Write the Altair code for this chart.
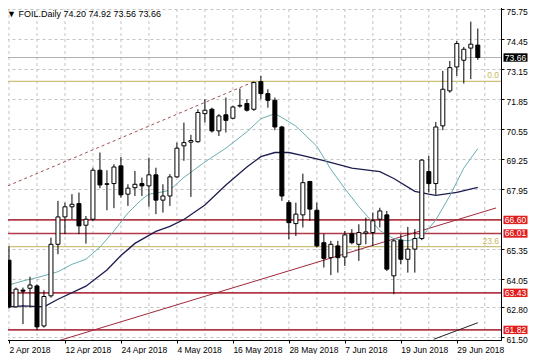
import altair as alt
import pandas as pd

# ---------------- data ----------------
bar_idx = list(range(68))
opens = [64.85, 62.82, 63.55, 63.63, 63.73, 61.99, 63.30, 65.54, 66.73, 67.17,
         67.31, 66.37, 66.63, 68.76, 68.17, 68.18, 68.95, 67.72, 68.00, 68.18,
         68.08, 68.56, 67.46, 67.64, 68.47, 69.82, 69.98, 70.00, 71.22, 71.41,
         70.47, 71.17, 71.02, 71.55, 71.66, 71.41, 72.61, 72.09, 71.80, 70.64,
         67.35, 66.44, 66.82, 68.27, 67.02, 65.61, 64.96, 65.47, 64.99, 66.00,
         65.54, 66.02, 66.05, 66.63, 66.82, 64.17, 65.72, 64.89, 65.33, 65.79,
         68.70, 68.18, 70.69, 72.21, 73.25, 73.54, 74.07, 74.20]
highs = [65.45, 63.66, 63.66, 64.13, 63.80, 63.54, 65.83, 67.43, 67.35, 67.72,
         67.79, 66.77, 68.87, 69.53, 68.76, 69.02, 69.34, 68.15, 68.73, 68.44,
         69.31, 68.87, 68.15, 68.59, 69.96, 70.83, 70.30, 71.41, 71.85, 71.48,
         71.20, 71.92, 71.56, 72.31, 71.85, 72.61, 72.86, 72.28, 71.92, 70.69,
         67.46, 67.35, 68.61, 68.30, 67.35, 66.00, 65.69, 65.69, 66.12, 66.20,
         66.41, 66.70, 66.92, 67.13, 66.99, 65.76, 65.98, 66.30, 66.20, 69.24,
         69.38, 70.86, 73.08, 73.51, 74.38, 74.12, 75.22, 74.92]
lows = [62.75, 62.78, 62.07, 62.79, 61.80, 61.92, 63.22, 65.11, 65.98, 66.63,
        65.98, 65.57, 66.56, 67.98, 67.02, 67.11, 67.57, 67.21, 67.64, 67.64,
        67.17, 66.85, 66.92, 67.21, 68.44, 69.17, 67.60, 69.96, 70.83, 70.40,
        70.25, 70.40, 70.98, 71.48, 71.31, 71.34, 71.85, 71.48, 70.50, 67.43,
        65.76, 65.90, 66.27, 66.56, 65.40, 64.53, 64.20, 64.31, 64.60, 65.54,
        64.82, 65.54, 65.47, 66.27, 64.38, 63.37, 64.67, 64.31, 64.31, 65.72,
        67.79, 67.70, 70.50, 72.13, 72.86, 72.53, 72.72, 73.56]
closes = [62.82, 63.59, 63.50, 63.77, 61.95, 63.27, 65.54, 66.73, 67.17, 67.28,
          66.34, 66.63, 68.76, 68.12, 68.15, 68.90, 67.69, 67.98, 68.15, 68.08,
          68.56, 67.46, 67.64, 68.47, 69.72, 69.96, 70.05, 71.27, 71.37, 70.47,
          71.12, 70.93, 71.51, 71.58, 71.37, 72.57, 72.09, 71.80, 70.64, 67.64,
          66.48, 66.85, 68.22, 67.07, 65.47, 64.93, 65.54, 64.96, 65.95, 65.61,
          66.05, 66.08, 66.56, 66.99, 64.46, 65.69, 64.89, 65.33, 65.79, 69.20,
          68.18, 70.64, 72.28, 73.22, 74.27, 74.02, 74.24, 73.66]

fast_ma_idx = [0, 2, 4, 7, 9, 11, 13, 15, 17, 19, 20, 22, 23, 25, 28, 31, 34, 36,
               38, 39, 41, 44, 46, 48, 50, 53, 55, 57, 59, 61, 63, 65, 67]
fast_ma_val = [63.77, 63.95, 64.09, 64.35, 64.67, 64.89, 65.42, 66.12, 66.90, 67.50,
               67.72, 67.82, 67.90, 68.45, 69.12, 69.72, 70.43, 71.00, 71.22, 71.05,
               70.68, 69.80, 68.80, 67.96, 67.18, 66.14, 65.78, 65.69, 65.86, 66.60,
               67.65, 68.85, 69.70]
slow_ma_idx = [0, 2, 5, 7, 11, 14, 16, 18, 21, 23, 25, 28, 31, 34, 36, 38, 40, 42,
               45, 49, 53, 55, 58, 60, 61, 64, 67]
slow_ma_val = [62.82, 62.86, 62.82, 63.15, 63.72, 64.42, 65.05, 65.58, 66.10, 66.32,
               66.62, 67.25, 68.12, 68.90, 69.35, 69.53, 69.53, 69.40, 69.18, 68.85,
               68.70, 68.40, 67.84, 67.72, 67.67, 67.80, 68.02]

support_idx = [7.0, 69.6]
support_val = [61.34, 67.12]
channel_idx = [-0.18, 35.0]
channel_val = [68.08, 72.61]
lower_idx = [60.7, 67.0]
lower_val = [61.41, 62.13]

date_tick_idx = [0, 8, 16, 24, 32, 40, 48, 56, 64]
date_tick_labels = ["2 Apr 2018", "12 Apr 2018", "24 Apr 2018", "4 May 2018",
                    "16 May 2018", "28 May 2018", "7 Jun 2018", "19 Jun 2018",
                    "29 Jun 2018"]
grid_idx = [0, 4, 8, 12, 16, 20, 24, 28, 32, 36, 40, 44, 48, 52, 56, 60, 64, 68]
price_ticks = [75.75, 74.45, 73.15, 71.85, 70.55, 69.25, 67.95, 65.35, 64.05, 62.80, 61.50]
level_values = [66.60, 66.01, 63.43, 61.82]
level_labels = ["66.60", "66.01", "63.43", "61.82"]
fibo_values = [72.62, 65.44]
fibo_labels = ["0.0", "23.6"]
current_price = [73.66]
current_label = ["73.66"]
title_text = ["\u25bc FOIL.Daily  74.20 74.92 73.56 73.66"]

# ---------------- tables ----------------
candles = pd.DataFrame({"i": bar_idx, "open": opens, "high": highs,
                        "low": lows, "close": closes})
fast_df = pd.DataFrame({"i": fast_ma_idx, "v": fast_ma_val})
slow_df = pd.DataFrame({"i": slow_ma_idx, "v": slow_ma_val})
support_df = pd.DataFrame({"i": support_idx, "v": support_val})
channel_df = pd.DataFrame({"i": channel_idx, "v": channel_val})
lower_df = pd.DataFrame({"i": lower_idx, "v": lower_val})
grid_df = pd.DataFrame({"i": grid_idx})
level_df = pd.DataFrame({"v": level_values, "label": level_labels})
fibo_df = pd.DataFrame({"v": fibo_values, "label": fibo_labels})
price_df = pd.DataFrame({"v": current_price, "label": current_label})
title_df = pd.DataFrame({"t": title_text})

FONT = "Liberation Sans"
FS = 8.5

labels_js = "[" + ",".join("'" + s + "'" for s in date_tick_labels) + "]"
x_axis = alt.Axis(values=date_tick_idx, labelExpr=labels_js + "[datum.value / 8]",
                  labelAlign="left", labelBaseline="top", labelPadding=2,
                  tickSize=3, grid=False, labelFlush=False, labelOverlap=False,
                  labelBound=False, title=None, labelFont=FONT, labelFontSize=FS,
                  labelColor="#000", domainColor="#000", tickColor="#000")
y_axis = alt.Axis(orient="right", values=price_ticks, format=".2f",
                  labelAlign="left", labelBaseline="middle", labelPadding=2,
                  labelOffset=2,
                  tickSize=3, grid=True, gridDash=[3, 3], gridColor="#c4c4c4",
                  labelOverlap=False, labelBound=False, labelFlush=False,
                  title=None, labelFont=FONT, labelFontSize=FS, labelColor="#000",
                  domainColor="#000", tickColor="#000")

xs = alt.Scale(domain=[-0.14, 69.6], nice=False, zero=False)
ys = alt.Scale(domain=[61.38, 76.03], nice=False, zero=False)


def X(f):
    return alt.X(f, type="quantitative", scale=xs, axis=x_axis)


def Y(f):
    return alt.Y(f, type="quantitative", scale=ys, axis=y_axis)


vgrid = alt.Chart(grid_df).mark_rule(color="#c4c4c4", strokeDash=[3, 3], strokeWidth=1).encode(x=X("i"))

fibo = alt.Chart(fibo_df).mark_rule(color="#c9c07a", strokeWidth=1.2).encode(y=Y("v"))
fibo_txt = alt.Chart(fibo_df).mark_text(align="right", baseline="bottom", dy=-1,
                                        color="#c8b85a", font=FONT, fontSize=FS).encode(
    x=alt.value(496), y=Y("v"), text="label:N")

levels = alt.Chart(level_df).mark_rule(color="#b23a48", strokeWidth=1.6).encode(y=Y("v"))
price_line = alt.Chart(price_df).mark_rule(color="#b0b0b0", strokeWidth=1).encode(y=Y("v"))

support = alt.Chart(support_df).mark_line(color="#a0283a", strokeWidth=1, clip=True).encode(
    x=X("i"), y=Y("v"))
channel = alt.Chart(channel_df).mark_line(color="#a05050", strokeWidth=1, strokeDash=[3, 3],
                                          clip=True).encode(x=X("i"), y=Y("v"))
lower = alt.Chart(lower_df).mark_line(color="#202020", strokeWidth=1, clip=True).encode(
    x=X("i"), y=Y("v"))

fast = alt.Chart(fast_df).mark_line(color="#6aaeb0", strokeWidth=1, clip=True).encode(
    x=X("i"), y=Y("v"))
slow = alt.Chart(slow_df).mark_line(color="#1c1c50", strokeWidth=1.3, clip=True).encode(
    x=X("i"), y=Y("v"))

wicks = alt.Chart(candles).mark_rule(color="#000", strokeWidth=1, clip=True).encode(
    x=X("i"), y=Y("low"), y2="high")
bodies = alt.Chart(candles).mark_bar(size=4, stroke="#000", strokeWidth=1, clip=True).encode(
    x=X("i"), y=Y("open"), y2="close",
    fill=alt.condition("datum.close >= datum.open", alt.value("#ffffff"), alt.value("#000000")))

box_shape = "M-1,-0.35L1,-0.35L1,0.35L-1,0.35Z"
level_box = alt.Chart(level_df).mark_point(shape=box_shape, size=576, filled=True,
                                           color="#e21d1d", opacity=1, clip=False).encode(
    x=alt.value(512.5), y=Y("v"))
level_box_txt = alt.Chart(level_df).mark_text(color="#ffffff", font=FONT, fontSize=FS,
                                              align="center", baseline="middle").encode(
    x=alt.value(512.5), y=Y("v"), text="label:N")
price_box = alt.Chart(price_df).mark_point(shape=box_shape, size=576, filled=True,
                                           color="#000000", opacity=1, clip=False).encode(
    x=alt.value(512.5), y=Y("v"))
price_box_txt = alt.Chart(price_df).mark_text(color="#ffffff", font=FONT, fontSize=FS,
                                              align="center", baseline="middle").encode(
    x=alt.value(512.5), y=Y("v"), text="label:N")

title = alt.Chart(title_df).mark_text(align="left", baseline="middle", font=FONT,
                                      fontSize=9, color="#000").encode(
    x=alt.value(4), y=alt.value(11), text="t:N")

chart = alt.layer(
    vgrid, fibo, levels, price_line, support, channel, lower, slow, fast,
    wicks, bodies, fibo_txt, level_box, level_box_txt, price_box, price_box_txt, title
).properties(
    width=498, height=337,
    padding={"left": -6, "top": -6, "right": 0, "bottom": 0},
    background="#ffffff",
).configure_view(stroke="#000", strokeWidth=1)

chart.save("out.html", embed_options={"renderer": "svg", "actions": False})
